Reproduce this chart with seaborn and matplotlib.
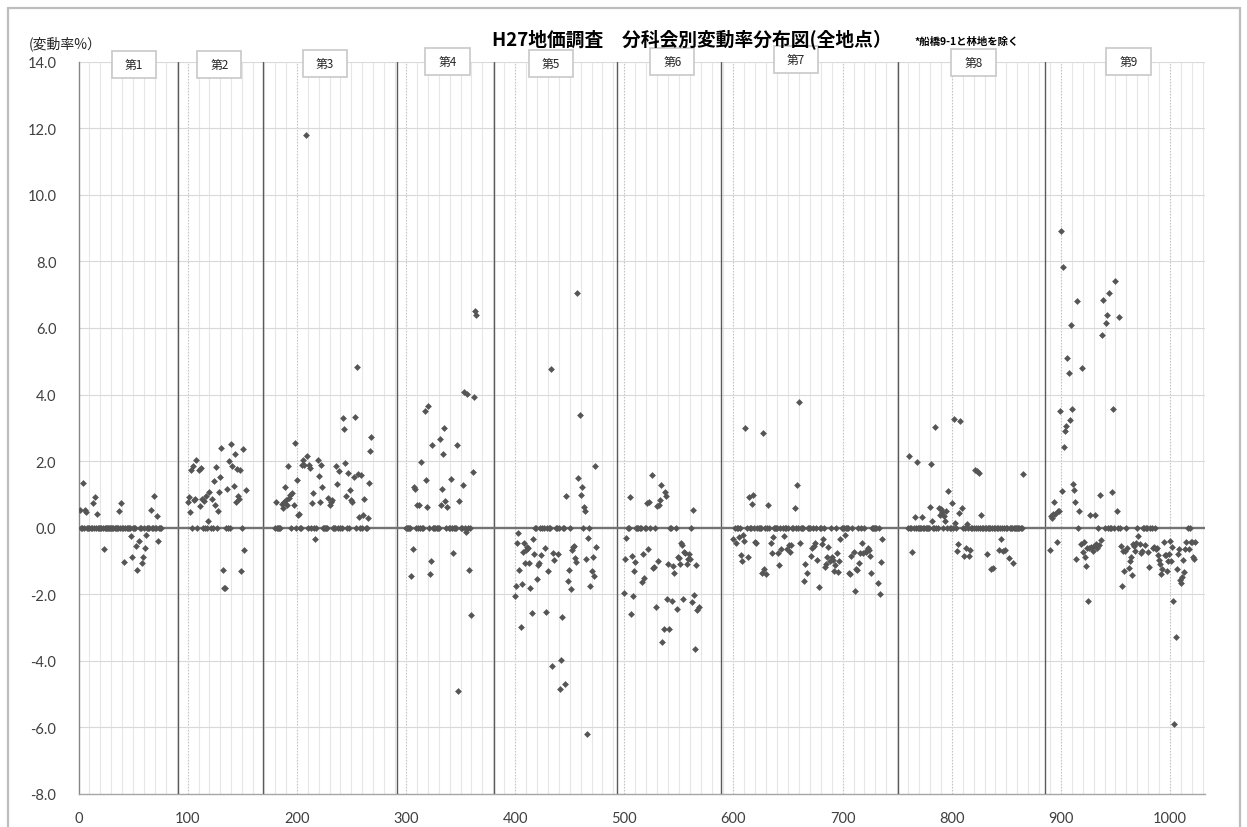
import numpy as np
import pandas as pd
import matplotlib
matplotlib.use("Agg")
import matplotlib.pyplot as plt
import matplotlib.transforms as mtransforms
from matplotlib.patches import Rectangle
from matplotlib.lines import Line2D
import seaborn as sns

# ---------------- data ----------------
group_labels = ["第1", "第2", "第3", "第4", "第5", "第6", "第7", "第8", "第9"]
label_x = [51, 129, 226, 338, 433, 544, 657, 820, 962]
label_y = [0.9959, 0.9959, 0.9973, 0.9996, 0.998, 0.9996, 1.003, 0.9992, 0.9996]
group_bounds = [91, 169, 292, 381, 493, 589, 751, 885]
group_starts = [1, 100, 180, 300, 400, 500, 600, 760, 890]

g1 = [0.54, 0, 0, 1.35, 0, 0.54, 0.46, 0, 0, 0, 0, 0, 0.75, 0, 0.93, 0, 0.41,
      0, 0, 0, 0, 0, -0.64, 0, 0, 0, 0, 0, 0, 0, 0, 0, 0, 0, 0, 0, 0.51, 0,
      0.74, 0, 0, -1.02, 0, 0, 0, 0, 0, -0.26, -0.89, 0, 0, 0, -0.55, -1.27,
      -0.40, 0, 0, -1.06, -0.89, 0, -0.60, -0.23, 0, 0, 0, 0.54, 0, 0, 0.95,
      0, 0, 0.35, -0.40, 0, 0, 0]
g2 = [0.76, 0.93, 0.46, 1.72, 0, 1.84, 0.82, 0.87, 2.02, 0, 1.74, 0.65, 1.79,
      0.87, 0, 0.80, 0, 0.94, 0, 0.20, 1.07, 0, 0.85, 0, 1.41, 0.67, 1.82, 0,
      0.49, 1.08, 1.52, 2.38, -1.28, -1.82, -1.80, 0, 1.16, 0, 1.99, 0, 2.50,
      1.85, 1.26, 2.20, 0.77, 1.75, 0.95, 0.85, 1.73, -1.29, 0, 2.35, -0.66,
      1.13]
g3 = [0, 0.78, 0, 0, 0, 0, 0.70, 0.60, 0.77, 1.22, 0.83, 0.69, 1.84, 0.90,
      0.97, 0, 1.03, 0.69, 2.55, 0, 1.43, 0.37, 0.40, 0, 0, 1.89, 2.04, 1.89,
      11.80, 2.16, 0, 1.89, 1.80, 0, 0.74, 1.03, 0, -0.35, 0, 2.02, 1.55, 0.76,
      1.89, 1.21, 0, 0, 0, 0, 0, 0.90, 0.67, 0.77, 0.82, 0, 0, 0, 1.85, 1.30,
      0, 1.69, 0, 0, 3.29, 2.97, 1.95, 0.95, 0, 1.65, 0, 1.12, 0.83, 0.77,
      1.53, 3.32, 0, 4.82, 1.61, 0.32, 0, 1.58, 0, 0.39, 0.85, 0, 0, 0.30,
      1.35, 2.29, 2.73]
g4 = [0, 0, 0, 0, 0, -1.46, -0.64, 1.23, 1.16, 0, 0.69, 0, 0.69, 0, 1.98, 0,
      0, 3.51, 1.43, 0.62, 3.67, 0, -1.38, -0.99, 2.47, 0, 0, 0, 0, 0, 0,
      2.68, 0.67, 1.15, 2.21, 3.01, 0.79, 0, 0.61, 0, 0, 1.47, 0, -0.75, 0, 0,
      0, 2.47, -4.91, 0.79, 0, 0, 1.28, 4.08, 0, -0.14, 4.03, 0, -1.27, 0,
      -2.61, 1.68, 3.94, 6.50, 6.40]
g5 = [-2.06, -1.76, -0.46, -0.15, -1.27, -2.97, -1.70, -0.73, -0.46, -1.05,
      -0.67, -0.59, -0.61, -1.05, -1.81, -2.57, -0.33, -0.79, 0, 0, -1.54,
      -1.13, -1.07, 0, -0.82, 0, 0, -0.61, -2.52, 0, -1.29, 0, 0, 4.77, -4.16,
      -0.76, -0.96, 0, 0, -0.79, 0, -4.85, -3.96, -2.69, 0, 0, -4.71, 0.96,
      -1.59, -1.26, 0, -1.84, -0.68, -0.59, -0.55, -0.90, -1.02, 7.05, 1.49,
      3.40, 0.99, 1.21, 0, 0.63, 0.49, -0.94, -6.19, -0.31, 0, -1.76, -1.30,
      -0.88, -1.44, 1.84, -0.59]
g6 = [-1.96, -0.94, -0.30, 0, 0, 0.93, -2.58, -0.86, -2.05, -1.30, -1.02, 0,
      0, 0, 0, 0, -1.64, -0.78, -1.50, 0, 0, 0.75, -0.63, 0.78, 0, 1.58,
      -1.20, -1.17, 0, -2.37, 0.66, -0.99, 0.69, 0.82, 1.28, -3.43, -3.04,
      1.07, 0.96, -2.15, -1.09, -3.05, 0, 0, -2.21, -1.15, -1.37, 0, -2.45,
      -0.87, -0.91, -1.09, -0.46, -0.51, -2.15, -0.74, -0.76, -1.09, -0.93,
      -0.79, -0.95, 0, -2.23, 0.53, -2.03, -3.63, -1.13, -2.46, -2.39]
g7 = [-0.33, 0, -0.45, 0, 0, -0.28, 0, -0.83, -1.00, -0.21, -0.41, 2.99, 0,
      -0.87, 0.93, 0, 0, 0.71, 0.98, 0, -0.44, -0.45, 0, 0, 0, 0, -1.37, 2.85,
      -1.25, 0, -1.40, 0, 0.67, 0, -0.46, -0.76, -0.29, 0, 0, 0, 0, -0.75,
      -1.12, 0, -0.65, 0, -0.24, 0, 0, -0.63, 0, -0.53, -0.74, -0.53, 0, 0,
      0.60, 0, 1.28, 0, 3.79, -0.47, 0, 0, 0, -1.60, -1.10, -1.37, 0, 0, 0,
      -0.86, -0.61, 0, -0.56, -0.45, 0, -0.97, -1.78, 0, 0, -0.48, -0.35, 0,
      -1.17, -1.08, -0.89, -0.57, -1.00, 0, -0.89, -0.96, -1.29, -1.13, 0,
      -0.75, -1.32, -0.99, -0.35, 0, 0, 0, -0.22, 0, 0, 0, -1.37, -1.40,
      -0.86, 0, -0.74, -1.90, -1.24, -1.26, 0, -1.05, -0.76, 0, -0.47, -0.77,
      0, -0.73, -0.68, -0.60, -0.66, -0.84, -1.37, 0, 0, 0, 0, 0, -1.65, 0,
      -1.99, -1.04, -0.34]
g8 = [0, 2.16, 0, 0, -0.73, 0, 0.31, 0, 1.96, 0, 0, 0, 0, 0.31, 0, 0, 0, 0,
      0, 0, 0.61, 1.92, 0.20, 0, 0, 3.02, 0, 0, 0.58, 0.39, 0.55, 0.48, 0,
      0.35, 0.21, 0.50, 0, 1.10, 0, 0, 0.74, 0, 3.28, 0.14, 0, -0.70, -0.49,
      0.45, 3.21, 0.60, 0, -0.84, 0, -0.61, 0.11, 0, -0.84, -0.66, 0, 0, 0,
      1.73, 0, 1.70, 0, 1.64, 0, 0.39, 0, 0, 0, 0, -0.78, 0, 0, 0, -1.24, 0,
      -1.20, 0, 0, 0, 0, -0.68, 0, -0.34, 0, -0.70, 0, -0.67, 0, 0, -0.90, 0,
      0, 0, -1.06, 0, 0, 0, 0, 0, 0, 0, 0, 1.62]
g9 = [-0.68, 0.34, 0.29, 0.40, 0.76, 0.41, -0.43, 0.49, 0.51, 3.50, 8.92,
      1.11, 7.82, 2.43, 2.90, 3.07, 5.10, 4.65, 3.23, 6.10, 3.58, 1.30, 1.13,
      0.78, -0.94, 6.80, 0, 0.49, -0.49, 4.79, -0.72, -0.42, -0.87, -1.15,
      -0.62, -2.19, -0.60, 0.37, -0.58, -0.71, -0.56, 0.39, -0.50, -0.60, 0,
      -0.52, 0.98, -0.36, 5.79, 6.83, 0, 6.15, 6.38, 0, 7.04, 0, 0, 1.06,
      3.56, 0, 7.40, 0.50, 0, 6.33, 0, -0.56, -1.75, -0.71, -1.31, -0.71, 0,
      -0.61, -1.22, -1.01, -0.87, -1.41, -0.48, -0.55, -0.71, -0.46, 0, -0.26,
      -0.50, -0.77, -0.71, 0, 0, -0.53, 0, 0, -0.72, -1.18, 0, 0, -0.61,
      -0.58, 0, -0.63, -0.61, -0.82, -0.98, -1.08, -1.40, -1.23, -0.43, -0.81,
      -0.82, -1.30, -1.00, -0.78, -0.40, -1.00, -0.58, -2.20, -5.90, -3.28,
      -1.25, -0.78, -0.65, -1.57, -1.65, -1.48, -0.98, -1.34, -0.63, -0.43, 0,
      -0.63, 0, -0.43, -0.43, -0.89, -0.94, -0.43]

groups = [g1, g2, g3, g4, g5, g6, g7, g8, g9]

y_ticks = [-8, -6, -4, -2, 0, 2, 4, 6, 8, 10, 12, 14]
x_ticks = [0, 100, 200, 300, 400, 500, 600, 700, 800, 900, 1000]

title = "H27地価調査\u3000分科会別変動率分布図(全地点）"
note = "*船橋9-1と林地を除く"
ylabel = "(変動率%）"

# ---------------- build table ----------------
rows = []
for gi, (start, vals) in enumerate(zip(group_starts, groups)):
    for k, v in enumerate(vals):
        rows.append({"idx": start + k, "rate": v, "group": group_labels[gi]})
df = pd.DataFrame(rows)

# ---------------- style ----------------
sns.set_theme(style="white")
plt.rcParams["font.family"] = ["Lato", "Noto Sans CJK JP", "DejaVu Sans"]
cjk = ["Noto Sans CJK JP", "DejaVu Sans"]

W, H = 1247, 828
fig = plt.figure(figsize=(W / 100, H / 100), dpi=100)
ax = fig.add_axes([78.5 / W, 1 - 795 / H, (1205 - 78.5) / W, (795 - 62.7) / H])

mark_col = "#555555"
sns.scatterplot(data=df, x="idx", y="rate", ax=ax, marker="D", s=12,
                color=mark_col, linewidth=0, zorder=5, legend=False)

ax.set_xlim(0, 1032)
ax.set_ylim(-8, 14)

# grid
ax.set_xticks(x_ticks)
ax.set_xticks(np.arange(0, 1040, 10), minor=True)
ax.set_yticks(y_ticks)
ax.set_yticks(np.arange(-8, 14.01, 0.4), minor=True)
ax.grid(False)
for xv in np.arange(10, 1040, 10):
    if xv % 100 == 0:
        ax.axvline(xv, color="#c4c4c4", lw=0.8, ls=(0, (1.5, 1.2)), zorder=1)
    else:
        ax.axvline(xv, color="#e6e6e6", lw=0.8, zorder=1)
for yv in y_ticks:
    if yv not in (-8, 0):
        ax.axhline(yv, color="#d9d9d9", lw=0.8, zorder=1)

# group separators
for b in group_bounds:
    ax.axvline(b, color="#5a5a5a", lw=1.0, zorder=3)

# zero line
ax.axhline(0, color="#737373", lw=1.7, zorder=4)

ax.set_xticklabels([str(v) for v in x_ticks], fontsize=10.5, color="#404040")
ax.set_yticklabels([f"{v:.1f}" for v in y_ticks], fontsize=10.5, color="#404040")
ax.tick_params(axis="x", which="both", length=0, pad=12)
ax.tick_params(axis="y", which="major", direction="in", length=4, color="#868686", pad=16)
ax.tick_params(axis="y", which="minor", direction="in", length=3, color="#a0a0a0")
ax.set_xlabel("")
ax.set_ylabel("")

for s in ["top", "right"]:
    ax.spines[s].set_visible(False)
ax.spines["left"].set_color("#868686")
ax.spines["left"].set_linewidth(1.0)
ax.spines["bottom"].set_color("#a6a6a6")
ax.spines["bottom"].set_linewidth(1.0)

# group label boxes
trans = mtransforms.blended_transform_factory(ax.transData, ax.transAxes)
box_w = 40.5
box_h = 27 / (795 - 62.7)
for lab, lx, ly in zip(group_labels, label_x, label_y):
    ax.add_patch(Rectangle((lx - box_w / 2, ly - box_h / 2), box_w, box_h,
                           transform=trans, facecolor="white", edgecolor="#c8c8c8",
                           lw=1.2, clip_on=False, zorder=8))
    ax.text(lx, ly, lab, transform=trans, ha="center", va="center",
            fontsize=8.5, family=cjk, color="#262626", zorder=9, clip_on=False)

# titles
fig.text(692 / W, 1 - 40 / H, title, ha="center", va="center", fontsize=13.5,
         fontweight="bold", family=cjk, color="#000000")
fig.text(967 / W, 1 - 42 / H, note, ha="center", va="center", fontsize=7.5,
         fontweight="bold", family=cjk, color="#000000")
fig.text(29 / W, 1 - 44 / H, ylabel, ha="left", va="center", fontsize=10,
         family=cjk, color="#262626")

# chart frame
frame_col = "#bdbdbd"
fig.add_artist(Line2D([8 / W, 8 / W], [0, 1 - 9 / H], transform=fig.transFigure,
                      color=frame_col, lw=1.6))
fig.add_artist(Line2D([8 / W, 1240 / W], [1 - 9 / H, 1 - 9 / H], transform=fig.transFigure,
                      color=frame_col, lw=1.6))
fig.add_artist(Line2D([1240 / W, 1240 / W], [0, 1 - 9 / H], transform=fig.transFigure,
                      color=frame_col, lw=1.6))

fig.savefig("out.png", dpi=100, facecolor="white")
